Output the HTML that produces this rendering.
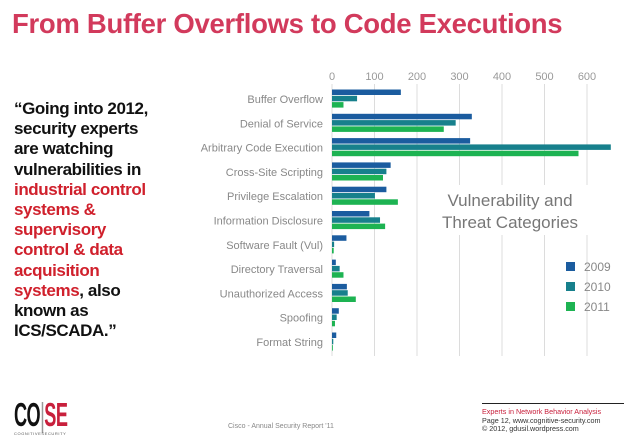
<!DOCTYPE html>
<html><head><meta charset="utf-8"><style>
body{margin:0;width:638px;height:442px;background:#fff;position:relative;overflow:hidden;font-family:"Liberation Sans",sans-serif}
.t{position:absolute;white-space:nowrap}
#title{left:12px;top:8px;font-size:27.5px;font-weight:bold;color:#d23a5c;letter-spacing:-0.3px}
#quote{left:14px;top:99px;font-size:17px;font-weight:bold;line-height:20.2px;color:#111;letter-spacing:-0.4px}
#quote .r{color:#d0202c}
</style></head><body>
<div id="title" class="t">From Buffer Overflows to Code Executions</div>
<div id="quote" class="t">“Going into 2012,<br>security experts<br>are watching<br>vulnerabilities in<br><span class="r">industrial control<br>systems &amp;<br>supervisory<br>control &amp; data<br>acquisition<br>systems</span>, also<br>known as<br>ICS/SCADA.”</div>
<svg id="chart" width="638" height="442" style="position:absolute;left:0;top:0"></svg>
<div class="t" style="left:14px;top:398px;font-size:33px;font-weight:bold;letter-spacing:-1px;line-height:33px;transform:scaleX(0.55);transform-origin:left top"><span style="color:#111">CO</span><span style="color:#999;font-weight:normal">|</span><span style="color:#c8203c">SE</span></div>
<div class="t" style="left:14px;top:431px;font-size:4px;color:#555;letter-spacing:0.6px">COGNITIVESECURITY</div>
<div class="t" style="left:228px;top:423px;font-size:7px;color:#888">Cisco - Annual Security Report '11</div>
<div style="position:absolute;left:482px;top:403px;width:142px;border-top:1px solid #222"></div>
<div class="t" style="left:482px;top:408px;font-size:7.2px;line-height:8.5px;color:#333"><span style="color:#c8203c">Experts in Network Behavior Analysis</span><br>Page 12, www.cognitive-security.com<br>© 2012, gdusil.wordpress.com</div>
<script>
const categories=["Buffer Overflow","Denial of Service","Arbitrary Code Execution","Cross-Site Scripting","Privilege Escalation","Information Disclosure","Software Fault (Vul)","Directory Traversal","Unauthorized Access","Spoofing","Format String"];
const series2009=[162,329,325,138,128,88,34,9,35,16,10];
const series2010=[59,291,656,128,101,113,5,18,37,11,3];
const series2011=[27,263,580,120,155,125,4,27,56,7,2];
const years=["2009","2010","2011"];
const ticks=[0,100,200,300,400,500,600];
const svg=document.getElementById('chart');
const NS='http://www.w3.org/2000/svg';
const x0=332,pxPer=0.425,yTop=99,rowH=24.3;
const xs=v=>x0+v*pxPer;
const yc=i=>yTop+i*rowH;
function mk(t,a){const e=document.createElementNS(NS,t);for(const k in a)e.setAttribute(k,a[k]);svg.appendChild(e);return e;}
ticks.forEach(v=>{
 const g=mk('line',{x1:xs(v),x2:xs(v),y1:84,y2:356,stroke:'#dcdcdc','stroke-width':1});
 
 
 const t=mk('text',{x:xs(v),y:80,'text-anchor':'middle','font-size':11,fill:'#999','font-family':'Liberation Sans, sans-serif'});
 t.textContent=v;
 
 
});
const cols=['#1b5c9f','#17808c','#1db352'];
const all=[series2009,series2010,series2011];
categories.forEach((c,i)=>{
 const t=mk('text',{x:323,y:yc(i)+4,'text-anchor':'end','font-size':11,fill:'#888','font-family':'Liberation Sans, sans-serif'});
 t.textContent=c;
 
 
 all.forEach((s,j)=>{
  const r=mk('rect',{x:x0,y:yc(i)-9.5+j*6.3,width:Math.max(0,xs(s[i])-x0),height:5.5,fill:cols[j]});
  
  
 });
});
const bg=mk('rect',{x:430,y:185,width:160,height:50,fill:'#fff'});


[["Vulnerability and",206],["Threat Categories",228]].forEach(([s,y])=>{
 const t=mk('text',{x:510,y:y,'text-anchor':'middle','font-size':17,fill:'#777','font-family':'Liberation Sans, sans-serif'});
 t.textContent=s;
 
 
});
years.forEach((yv,j)=>{
 const r=mk('rect',{x:566,y:262+j*20,width:9,height:9,fill:cols[j]});
 
 
 const t=mk('text',{x:584,y:271+j*20,'font-size':12,fill:'#888','font-family':'Liberation Sans, sans-serif'});
 t.textContent=yv;
 
 
});
</script>
</body></html>
